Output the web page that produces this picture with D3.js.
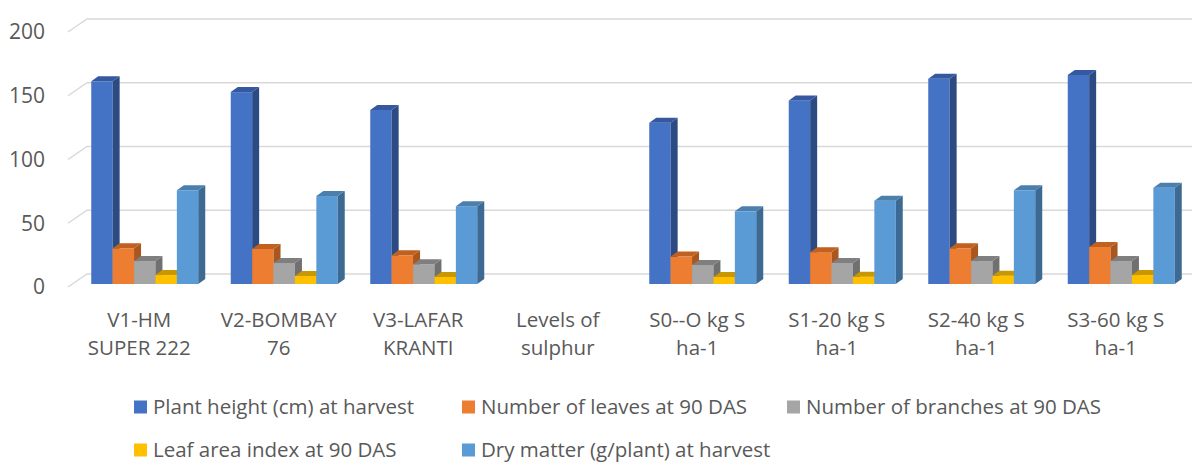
<!DOCTYPE html>
<html>
<head>
<meta charset="utf-8">
<script src="https://cdn.jsdelivr.net/npm/d3@7"></script>
<style>
  body { margin: 0; background: #fff; }
  svg { display: block; font-family: "Open Sans", sans-serif; }
</style>
</head>
<body>
<svg width="1192" height="462"></svg>
<script>
// categories along the x axis (each label is two lines)
var categories = ["V1-HM SUPER 222", "V2-BOMBAY 76", "V3-LAFAR KRANTI", "Levels of sulphur",
                  "S0--O kg S ha-1", "S1-20 kg S ha-1", "S2-40 kg S ha-1", "S3-60 kg S ha-1"];
var labelLines = [["V1-HM", "SUPER 222"], ["V2-BOMBAY", "76"], ["V3-LAFAR", "KRANTI"], ["Levels of", "sulphur"],
                  ["S0--O kg S", "ha-1"], ["S1-20 kg S", "ha-1"], ["S2-40 kg S", "ha-1"], ["S3-60 kg S", "ha-1"]];

var seriesNames = ["Plant height (cm) at harvest", "Number of leaves at 90 DAS", "Number of branches at 90 DAS",
                   "Leaf area index at 90 DAS", "Dry matter (g/plant) at harvest"];

// values per series, one per category (null = no bar)
var plantHeight = [159, 150.5, 136.5, null, 126.5, 144, 161, 164];
var leaves      = [28, 27.5, 22.5, null, 21.5, 25, 28, 29];
var branches    = [18, 16.5, 15.5, null, 15, 16.5, 18, 18];
var lai         = [7, 6.3, 5.5, null, 5.5, 5.7, 6.5, 7];
var dryMatter   = [73.5, 69, 61, null, 57, 65.3, 73.5, 75.5];

var yTicks = [0, 50, 100, 150, 200];

var allSeries = [plantHeight, leaves, branches, lai, dryMatter];

// front, side, top colours
var colors = [
  ["#4472c4", "#2c4b82", "#3558a0"],
  ["#ed7d31", "#a9561f", "#c0611f"],
  ["#a5a5a5", "#707070", "#7f7f7f"],
  ["#ffc000", "#b58800", "#c99800"],
  ["#5b9bd5", "#3d6a92", "#4a7fae"]
];

var svg = d3.select("svg");

// y on the front plane of the floor
var y = d3.scaleLinear().domain([0, 200]).range([287, 32]);
var depthX = 19, depthY = 13;   // wall depth
var barDx = 7, barDy = 5;       // bar depth
var barShift = 3;               // bar front sits slightly behind the front plane

var x = d3.scaleBand()
    .domain(categories)
    .range([75, 1191])
    .paddingInner(0.233)
    .paddingOuter(0.1165);

var xs = d3.scaleBand()
    .domain(d3.range(seriesNames.length))
    .range([0, x.bandwidth()]);

// gridlines: diagonal on side wall + horizontal on back wall
var grid = svg.append("g");
yTicks.forEach(function(t) {
    grid.append("path")
        .attr("d", "M68," + y(t) + "L" + (68 + depthX) + "," + (y(t) - depthY) + "H1192")
        .attr("fill", "none")
        .attr("stroke", "#d9d9d9")
        .attr("stroke-width", 1.5);
});

// y tick labels
svg.append("g").selectAll("text")
    .data(yTicks)
    .enter().append("text")
    .attr("x", 45)
    .attr("y", function(d) { return y(d); })
    .attr("dy", "0.35em")
    .attr("text-anchor", "end")
    .attr("fill", "#595959")
    .style("font-size", "21px")
    .text(function(d) { return d; });

// bars
var bars = svg.append("g");
categories.forEach(function(c, ci) {
    allSeries.forEach(function(vals, si) {
        var v = vals[ci];
        if (v == null) return;
        var x0 = x(c) + xs(si), w = xs.bandwidth();
        var yb = y(0) - barShift, yt = y(v) - barShift;
        var col = colors[si];
        bars.append("rect")
            .attr("x", x0).attr("y", yt)
            .attr("width", w).attr("height", yb - yt)
            .attr("fill", col[0]);
        bars.append("path")
            .attr("d", "M" + (x0 + w) + "," + yt + "l" + barDx + "," + (-barDy) + "V" + (yb - barDy) + "l" + (-barDx) + "," + barDy + "Z")
            .attr("fill", col[1]);
        bars.append("path")
            .attr("d", "M" + x0 + "," + yt + "l" + barDx + "," + (-barDy) + "h" + w + "l" + (-barDx) + "," + barDy + "Z")
            .attr("fill", col[2]);
    });
});

// category labels
var labels = svg.append("g").selectAll("text")
    .data(categories)
    .enter().append("text")
    .attr("text-anchor", "middle")
    .attr("fill", "#595959")
    .style("font-size", "20.5px")
    .attr("transform", function(d) { return "translate(" + (x(d) + x.bandwidth() / 2 - 5.5) + ",0)"; });
labels.each(function(d, i) {
    var t = d3.select(this);
    labelLines[i].forEach(function(line, li) {
        t.append("tspan").attr("x", 0).attr("y", 320 + li * 28).attr("dy", "0.35em").text(line);
    });
});

// legend
var legendPos = [[134, 407], [462, 407], [787, 407], [134, 450], [462, 450]];
var legend = svg.append("g").selectAll("g")
    .data(seriesNames)
    .enter().append("g")
    .attr("transform", function(d, i) { return "translate(" + legendPos[i][0] + "," + legendPos[i][1] + ")"; });
legend.append("rect")
    .attr("x", 0).attr("y", -6.5)
    .attr("width", 13).attr("height", 13)
    .attr("fill", function(d, i) { return colors[i][0]; });
legend.append("text")
    .attr("x", 19)
    .attr("dy", "0.35em")
    .attr("fill", "#595959")
    .style("font-size", "20.5px")
    .text(function(d) { return d; });
</script>
</body>
</html>
